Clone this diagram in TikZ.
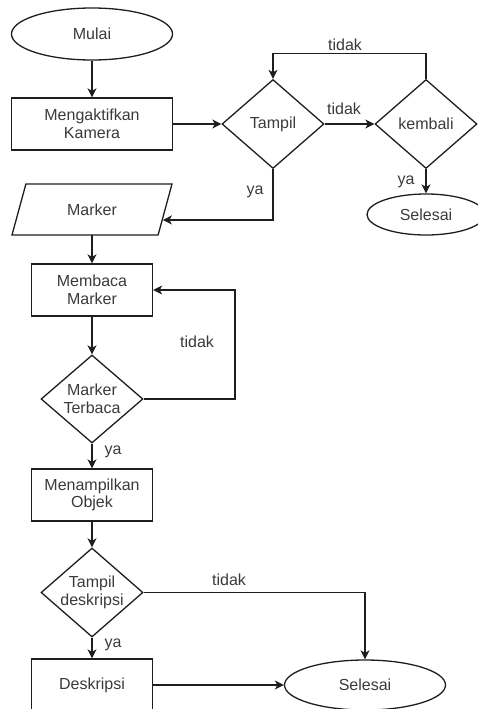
\documentclass[tikz,border=0pt]{standalone}
\usepackage{fontspec}
\setmainfont{Liberation Sans}
\usetikzlibrary{shapes.geometric,arrows.meta,calc}
\definecolor{txt}{HTML}{3A3A3A}
\definecolor{ln}{HTML}{1E1E1E}
\begin{document}
\begin{tikzpicture}[x=1pt,y=-1pt,
  every node/.style={font=\fontsize{16}{17.5}\selectfont, text=txt},
  base/.style={draw=ln, line width=1.3pt, inner sep=0pt, align=center},
  proc/.style={base, rectangle, minimum width=121pt, minimum height=52pt},
  term/.style={base, ellipse, minimum width=161pt, minimum height=52pt},
  dec/.style={base, diamond, minimum width=102pt, minimum height=89pt},
  io/.style={base, trapezium, trapezium left angle=66, trapezium right angle=114,
    trapezium stretches=true, minimum width=161pt, minimum height=51pt},
  conn/.style={draw=ln, line width=1.3pt, -{Stealth[length=9pt,width=9pt,inset=2.5pt]}},
  lbl/.style={inner sep=0pt}
]
\useasboundingbox (0,0) rectangle (477,709);

\node[term] (mulai) at (92,34) {Mulai};
\node[proc, minimum width=161pt] (kamera) at (92,124) {Mengaktifkan\\Kamera};
\node[dec, label={[align=center]center:Tampil}] (tampil) at (273,124) {};
\node[dec, label={[align=center]center:kembali}] (kembali) at (426,124) {};
\node[term, minimum width=118pt, minimum height=41pt] (sel1) at (426,214.5) {Selesai};
\node[io] (marker) at (92,209.5) {Marker};
\node[proc] (membaca) at (92,290) {Membaca\\Marker};
\node[dec, minimum height=88pt, label={[align=center]center:Marker\\Terbaca}] (terbaca) at (92,399) {};
\node[proc] (objek) at (92,495) {Menampilkan\\Objek};
\node[dec, label={[align=center]center:Tampil\\deskripsi}] (tdesk) at (92,592.5) {};
\node[proc] (desk) at (92,685) {Deskripsi};
\node[term, minimum height=50pt] (sel2) at (365,685) {Selesai};

\coordinate (mk) at ($(marker.top right corner)!0.7!(marker.bottom right corner)$);
\coordinate (mb) at (92,235);
\coordinate (top) at (426,53.5);
\coordinate (lp) at (235,290);

\draw[conn] (mulai) -- (kamera);
\draw[conn] (kamera) -- (tampil);
\draw[conn] (tampil) -- (kembali);
\draw[conn] (kembali.north) -- (top) -| (tampil.north);
\draw[conn] (kembali) -- (sel1);
\draw[conn] (tampil.south) |- (mk);
\draw[conn] (mb) -- (membaca.north);
\draw[conn] (membaca) -- (terbaca);
\draw[conn] (terbaca.east) -| (lp) -- (membaca.east);
\draw[conn] (terbaca) -- (objek);
\draw[conn] (objek) -- (tdesk);
\draw[conn] (tdesk.east) -| (sel2.north);
\draw[conn] (tdesk) -- (desk);
\draw[conn] (desk) -- (sel2);

\node[lbl] (l1) at (345,45) {tidak};
\node[lbl] (l2) at (344,109) {tidak};
\node[lbl] (l3) at (406,182) {ya};
\node[lbl] (l4) at (255,192) {ya};
\node[lbl] (l5) at (197,342) {tidak};
\node[lbl] (l6) at (113,452) {ya};
\node[lbl] (l7) at (229,580) {tidak};
\node[lbl] (l8) at (113,645) {ya};
\end{tikzpicture}
\end{document}
